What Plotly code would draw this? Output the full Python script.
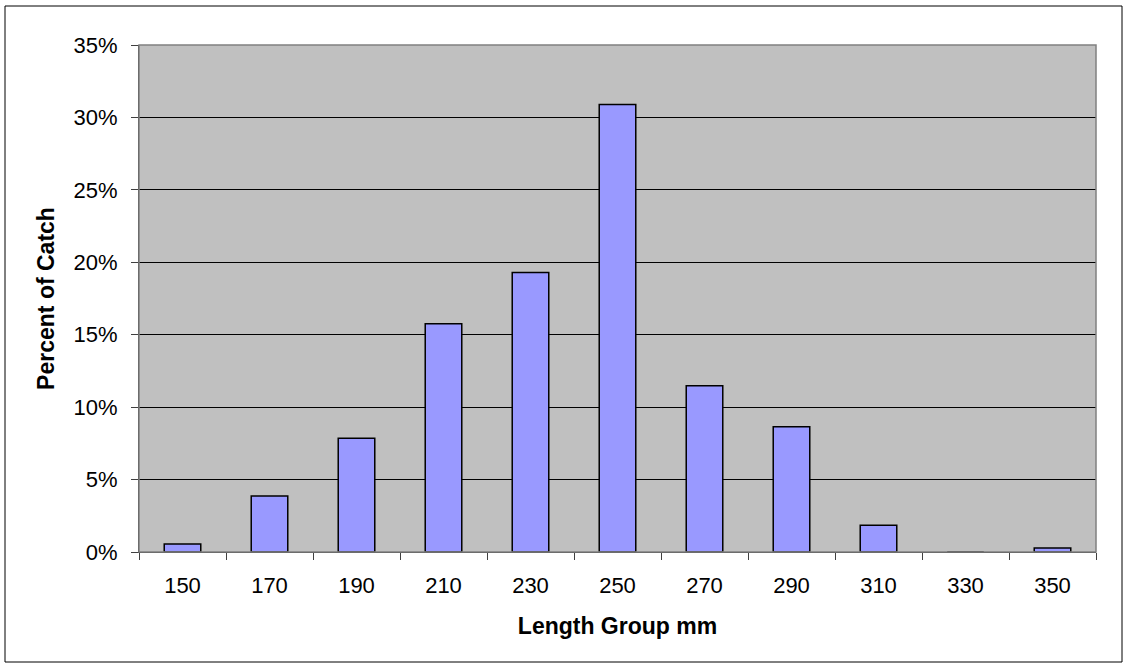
import plotly.graph_objects as go

# Length-frequency of the catch
length_groups = ["150", "170", "190", "210", "230", "250", "270", "290", "310", "330", "350"]
percent_catch = [0.55, 3.87, 7.86, 15.75, 19.3, 30.9, 11.47, 8.64, 1.84, 0.0, 0.28]
y_ticks = [0, 5, 10, 15, 20, 25, 30, 35]
y_tick_text = [f"{v}%" for v in y_ticks]

W, H = 1128, 668
L, R, T, B = 139, 32, 45, 116
pw, ph = W - L - R, H - T - B

fig = go.Figure(
    go.Bar(
        x=length_groups,
        y=percent_catch,
        marker=dict(color="#9999FF", line=dict(color="black", width=1.5)),
    )
)

fig.update_layout(
    width=W,
    height=H,
    margin=dict(l=L, r=R, t=T, b=B),
    paper_bgcolor="white",
    plot_bgcolor="#C0C0C0",
    bargap=0.58,
    showlegend=False,
    font=dict(family="Arial, Liberation Sans, sans-serif", size=22, color="black"),
    xaxis=dict(
        type="category",
        tickson="boundaries",
        ticks="outside",
        ticklen=7,
        tickcolor="#404040",
        ticklabelstandoff=14,
        showline=True,
        linecolor="#303030",
        linewidth=1,
        showgrid=False,
        tickfont=dict(size=22),
        title=dict(text="<b>Length Group mm</b>", font=dict(size=23), standoff=20),
    ),
    yaxis=dict(
        range=[0, 35],
        tickvals=y_ticks,
        ticktext=y_tick_text,
        ticks="outside",
        ticklen=7,
        tickcolor="#404040",
        ticklabelstandoff=9,
        showline=True,
        linecolor="#303030",
        linewidth=1,
        showgrid=True,
        gridcolor="black",
        gridwidth=1,
        zeroline=False,
        tickfont=dict(size=22),
        title=dict(text="<b>Percent of Catch</b>", font=dict(size=23), standoff=12),
    ),
    shapes=[
        # plot area frame
        dict(type="rect", xref="paper", yref="paper", x0=0, y0=0, x1=1, y1=1,
             line=dict(color="#808080", width=1.5), layer="above"),
        # chart border
        dict(type="rect", xref="paper", yref="paper",
             x0=(5 - L) / pw, x1=(1122 - L) / pw,
             y0=(H - B - 662) / ph, y1=(H - B - 6) / ph,
             line=dict(color="black", width=1)),
    ],
)

fig.write_html("out.html")
